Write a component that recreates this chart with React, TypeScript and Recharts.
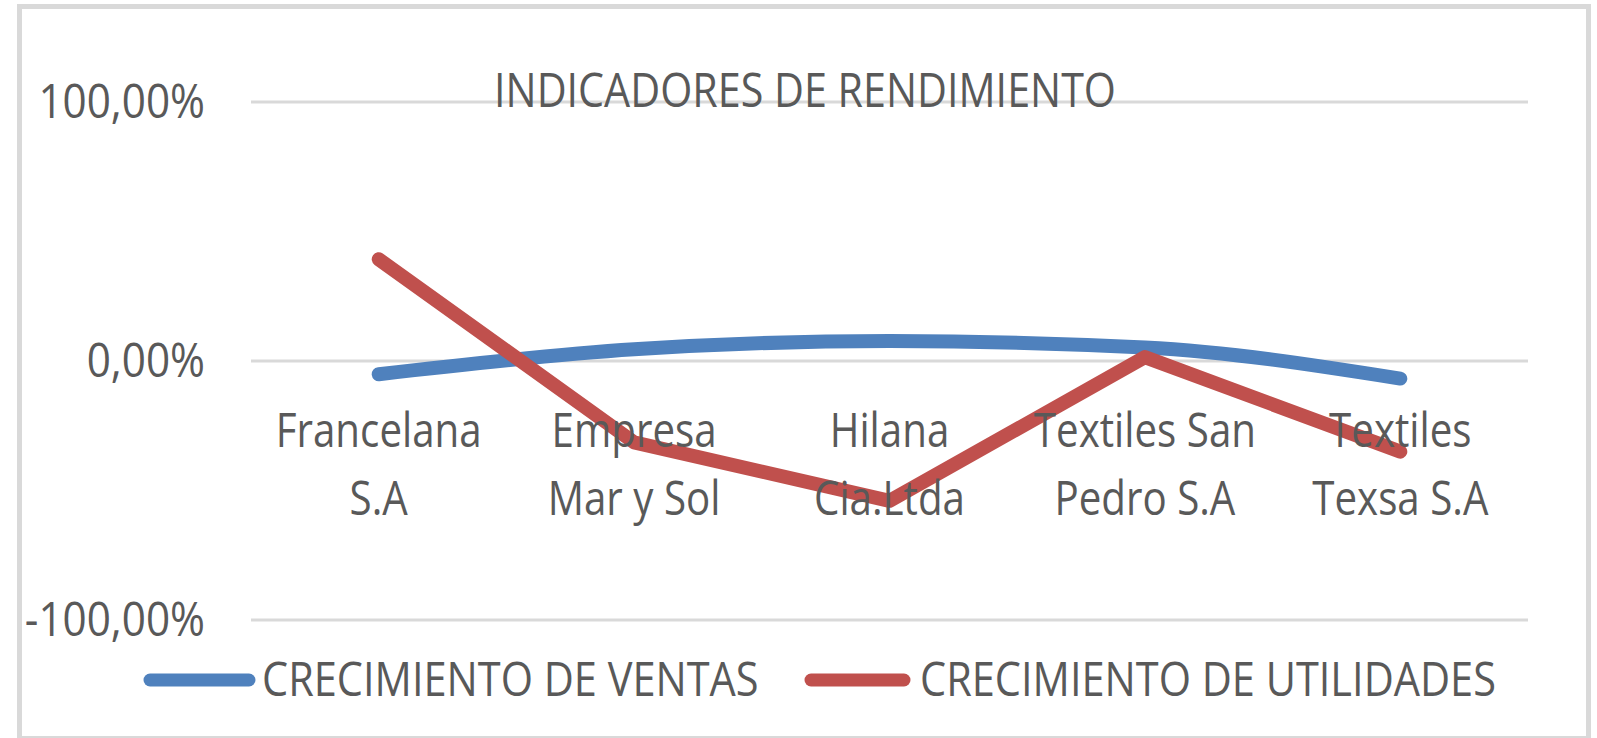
import React from 'react';
import { LineChart, Line, XAxis, YAxis, CartesianGrid, Legend } from 'recharts';

const categories = [
  'Francelana\nS.A',
  'Empresa\nMar y Sol',
  'Hilana\nCia.Ltda',
  'Textiles San\nPedro S.A',
  'Textiles\nTexsa S.A',
];
const ventas = [-0.051, 0.045, 0.077, 0.052, -0.068];
const utilidades = [0.393, -0.314, -0.54, 0.015, -0.35];
const yTicks = [-1, 0, 1];
const seriesNames = ['CRECIMIENTO DE VENTAS', 'CRECIMIENTO DE UTILIDADES'];
const seriesColors = ['#4F81BD', '#C0504D'];
const title = 'INDICADORES DE RENDIMIENTO';

const data = categories.map((c, i) => ({ cat: c, ventas: ventas[i], utilidades: utilidades[i] }));

const FONT = '"Open Sans", "Noto Sans", sans-serif';
const FS = 48;
const TXT = '#595959';

const NText = ({ x, y, anchor = 'middle', sx = 0.84, children }: any) => (
  <text
    transform={`translate(${x},${y}) scale(${sx},1)`}
    textAnchor={anchor}
    fontFamily={FONT}
    fontSize={FS}
    fill={TXT}
  >
    {children}
  </text>
);

const fmt = (v: number) => (v * 100).toFixed(2).replace('.', ',') + '%';

const renderYTick = (props: any) => {
  const { x, y, payload } = props;
  return (
    <g key={`y-${payload.value}`}>
      <NText x={Number(x) - 46} y={Number(y) + 16} anchor="end" sx={0.88}>{fmt(payload.value)}</NText>
    </g>
  );
};

const renderXTick = (props: any) => {
  const { x, y, payload } = props;
  const lines = String(payload.value).split('\n');
  return (
    <g key={`x-${payload.value}`}>
      <NText x={Number(x)} y={Number(y) - 173}>{lines[0]}</NText>
      <NText x={Number(x)} y={Number(y) - 105}>{lines[1]}</NText>
    </g>
  );
};

const LegendContent = () => {
  const items = [
    { x1: 150, x2: 249, tx: 262 },
    { x1: 811, x2: 904, tx: 920 },
  ];
  return (
    <svg width={1597} height={80} style={{ display: 'block' }}>
      {items.map((it, i) => (
        <g key={i}>
          <line x1={it.x1} x2={it.x2} y1={40} y2={40} stroke={seriesColors[i]} strokeWidth={13} strokeLinecap="round" />
          <NText x={it.tx} y={56} anchor="start" sx={0.865}>{seriesNames[i]}</NText>
        </g>
      ))}
    </svg>
  );
};

export default function App() {
  return (
    <div style={{ position: 'absolute', left: 0, top: 0, width: 1597, height: 738, background: '#fff', overflow: 'hidden' }}>
      <div
        style={{
          position: 'absolute',
          left: 17,
          top: 4,
          width: 1574,
          height: 737,
          border: '5px solid #D9D9D9',
          boxSizing: 'border-box',
        }}
      />
      <div style={{ position: 'absolute', left: 0, top: 0 }}>
        <LineChart
          width={1597}
          height={738}
          data={data}
          margin={{ top: 102, right: 69, bottom: 8, left: 191 }}
        >
          <CartesianGrid vertical={false} stroke="#D9D9D9" strokeWidth={3} />
          <XAxis
            dataKey="cat"
            scale="band"
            height={30}
            axisLine={false}
            tickLine={false}
            tickSize={0}
            tickMargin={0}
            interval={0}
            tick={renderXTick}
          />
          <YAxis
            type="number"
            domain={[-1, 1]}
            ticks={yTicks}
            width={60}
            axisLine={false}
            tickLine={false}
            tickSize={0}
            tickMargin={0}
            interval={0}
            tick={renderYTick}
          />
          <Legend
            verticalAlign="bottom"
            content={<LegendContent />}
            wrapperStyle={{ position: 'absolute', left: 0, top: 640, width: 1597, height: 80 }}
          />
          <Line
            type="monotone"
            dataKey="ventas"
            name={seriesNames[0]}
            stroke={seriesColors[0]}
            strokeWidth={14}
            strokeLinecap="round"
            strokeLinejoin="round"
            dot={false}
            activeDot={false}
            isAnimationActive={false}
          />
          <Line
            type="linear"
            dataKey="utilidades"
            name={seriesNames[1]}
            stroke={seriesColors[1]}
            strokeWidth={14}
            strokeLinecap="round"
            strokeLinejoin="round"
            dot={false}
            activeDot={false}
            isAnimationActive={false}
          />
        </LineChart>
      </div>
      <svg width={1597} height={738} style={{ position: 'absolute', left: 0, top: 0, pointerEvents: 'none' }}>
        <NText x={805} y={107} sx={0.86}>{title}</NText>
      </svg>
    </div>
  );
}
